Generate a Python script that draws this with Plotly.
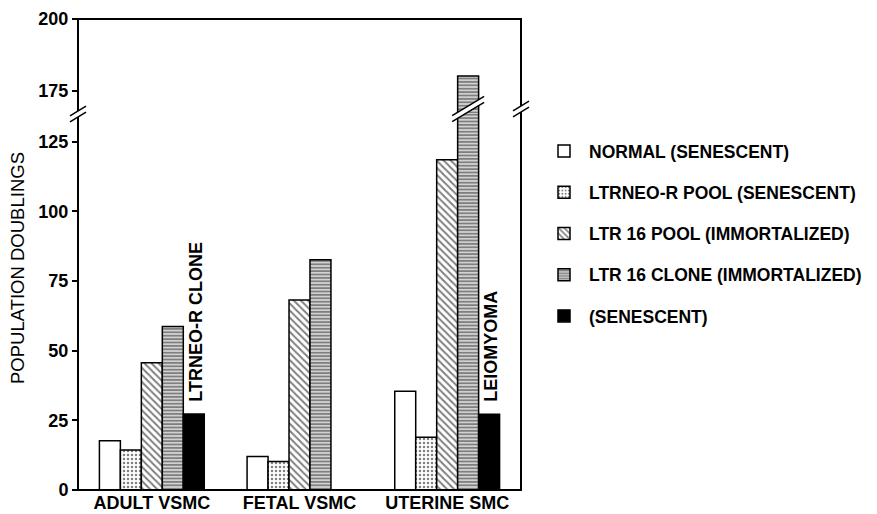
import plotly.graph_objects as go

# ---- data ----
categories = ["ADULT VSMC", "FETAL VSMC", "UTERINE SMC"]
series_names = [
    "NORMAL (SENESCENT)",
    "LTRNEO-R POOL (SENESCENT)",
    "LTR 16 POOL (IMMORTALIZED)",
    "LTR 16 CLONE (IMMORTALIZED)",
    "(SENESCENT)",
]
normal = [17.7, 12.0, 35.4]
neo_pool = [14.4, 10.2, 18.9]
ltr16_pool = [45.7, 68.2, 118.5]
ltr16_clone = [58.7, 82.6, 180.1]
senescent_clone = [27.3, None, 27.2]
series_values = [normal, neo_pool, ltr16_pool, ltr16_clone, senescent_clone]
bar_labels = ["LTRNEO-R CLONE", None, "LEIOMYOMA"]

lower_ticks = [0, 25, 50, 75, 100, 125]
upper_ticks = [175, 200]
lower_range = [0, 135.3]
upper_range = [167.2, 200]

# ---- geometry (page pixels; the page body has an 8px margin) ----
OFF = 8
PAGE_W, PAGE_H = 877, 514
W, H = PAGE_W - OFF, PAGE_H - OFF
L, R, T, B = 78, 521, 19, 490          # plot area in page pixels
PW, PH = R - L, B - T
break_px = 113
split = (B - break_px) / PH
BARGAP = 0.29
FONT = "Liberation Sans, Arial, Helvetica, sans-serif"


def bold(s):
    return f"<b>{s}</b>"


patterns = [
    dict(shape=""),
    dict(shape=".", fgcolor="black", bgcolor="white", size=4, solidity=0.3),
    dict(shape="\\", fgcolor="black", bgcolor="white", size=5, solidity=0.4),
    dict(shape="-", fgcolor="black", bgcolor="white", size=3.4, solidity=0.68),
    dict(shape=""),
]
fills = ["white", "white", "white", "white", "black"]

fig = go.Figure()
for i, (name, vals) in enumerate(zip(series_names, series_values)):
    for yax, show in (("y", True), ("y2", False)):
        fig.add_trace(go.Bar(
            x=categories, y=vals, name=bold(name), xaxis="x", yaxis=yax,
            legendgroup=f"g{i}", showlegend=show,
            marker=dict(color=fills[i], pattern=patterns[i],
                        line=dict(color="black", width=1.5)),
        ))

# vertical labels above the senescent bars
ngroup = len(series_names)
bw = (1 - BARGAP) / ngroup
for ci, lab in enumerate(bar_labels):
    if lab is None:
        continue
    xpos = ci - (1 - BARGAP) / 2 + (ngroup - 0.5) * bw
    fig.add_annotation(x=xpos, y=senescent_clone[ci], xref="x", yref="y",
                       text=bold(lab), textangle=-90, showarrow=False,
                       yanchor="bottom", xanchor="center", yshift=10, xshift=2,
                       font=dict(family=FONT, size=18, color="black"))

fig.add_annotation(x=(17 - L) / PW, y=(B - 268) / PH, xref="paper", yref="paper",
                   text="POPULATION DOUBLINGS", textangle=-90, showarrow=False,
                   xanchor="center", yanchor="middle",
                   font=dict(family=FONT, size=18.5, color="black"))

# frame
shapes = [dict(type="rect", xref="paper", yref="paper", x0=0, x1=1, y0=0, y1=1,
               line=dict(color="black", width=2), fillcolor="rgba(0,0,0,0)", layer="above")]


def px2paper(xp, yp):
    return (xp - L) / PW, (B - yp) / PH


def break_mark(cx, cy, hw, slope=0.6, gap=6):
    out = []
    pts_top = [(cx - hw, cy - gap / 2 + slope * hw), (cx + hw, cy - gap / 2 - slope * hw)]
    pts_bot = [(cx - hw, cy + gap / 2 + slope * hw), (cx + hw, cy + gap / 2 - slope * hw)]
    poly = pts_top + pts_bot[::-1]
    pp = [px2paper(*p) for p in poly]
    path = "M" + " L".join(f"{a:.5f},{b:.5f}" for a, b in pp) + " Z"
    out.append(dict(type="path", xref="paper", yref="paper", path=path,
                    fillcolor="white", line=dict(width=0), layer="above"))
    for seg in (pts_top, pts_bot):
        (x0, y0), (x1, y1) = [px2paper(*p) for p in seg]
        out.append(dict(type="line", xref="paper", yref="paper", x0=x0, y0=y0, x1=x1, y1=y1,
                        line=dict(color="black", width=1.5), layer="above"))
    return out


shapes += break_mark(L, break_px + 1, 8)
shapes += break_mark(R, break_px - 4, 8)
# break across the tall bar (uterine LTR 16 clone)
clone_x = 2 - (1 - BARGAP) / 2 + 3.5 * bw
clone_px = L + (clone_x + 0.5) / 3 * PW
shapes += break_mark(clone_px, break_px - 4, 16)

fig.update_layout(
    width=W, height=H,
    margin=dict(l=L - OFF, r=PAGE_W - R, t=T - OFF, b=PAGE_H - B, pad=0,
                autoexpand=False),
    paper_bgcolor="white", plot_bgcolor="white",
    barmode="group", bargap=BARGAP, bargroupgap=0,
    font=dict(family=FONT, color="black"),
    shapes=shapes,
    xaxis=dict(anchor="y", showgrid=False, zeroline=False, showline=False, ticks="",
               tickvals=categories, ticktext=[bold(c) for c in categories],
               tickfont=dict(family=FONT, size=18, color="black"), automargin=False,
               range=[-0.5, 2.5]),
    yaxis=dict(domain=[0, split], range=lower_range, tickvals=lower_ticks,
               ticktext=[bold(t) for t in lower_ticks],
               showgrid=False, zeroline=False, showline=False, ticks="outside",
               ticklen=5, tickwidth=1.5, tickcolor="black", automargin=False,
               tickfont=dict(family=FONT, size=18, color="black")),
    yaxis2=dict(domain=[split, 1], range=upper_range, tickvals=upper_ticks,
                ticktext=[bold(t) for t in upper_ticks],
                showgrid=False, zeroline=False, showline=False, ticks="outside",
                ticklen=5, tickwidth=1.5, tickcolor="black", automargin=False,
                tickfont=dict(family=FONT, size=18, color="black")),
    legend=dict(x=(539 - L) / PW, y=(B - 133) / PH, xanchor="left", yanchor="top",
                traceorder="grouped", tracegroupgap=15.5, itemwidth=40,
                font=dict(family=FONT, size=17.5, color="black"),
                bgcolor="rgba(0,0,0,0)"),
)

fig.write_html("out.html")
